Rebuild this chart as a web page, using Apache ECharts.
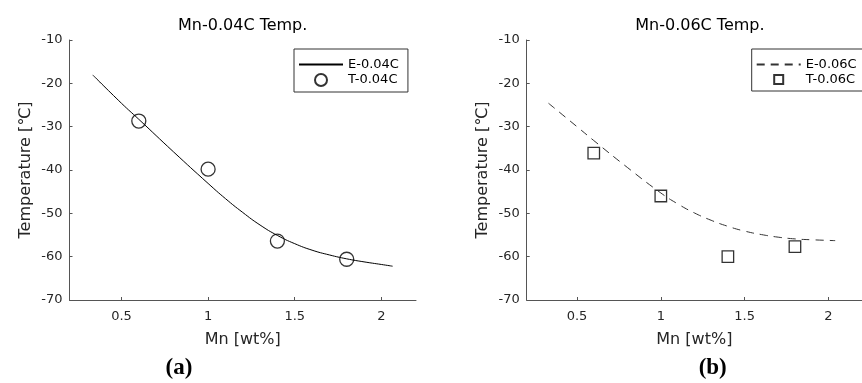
<!DOCTYPE html>
<html>
<head>
<meta charset="utf-8">
<script src="https://cdn.jsdelivr.net/npm/echarts@6/dist/echarts.min.js"></script>
<style>
  html, body { margin: 0; padding: 0; background: #fff; }
  #chart { width: 862px; height: 383px; }
</style>
</head>
<body>
<div id="chart"></div>
<script>
// tick values
const xTicks = [0.5, 1, 1.5, 2]

// (a) Mn-0.04C
const fitX004 = [0.335, 0.5, 0.6, 0.8, 1.0, 1.1, 1.2, 1.3, 1.4, 1.5, 1.6, 1.7, 1.8, 1.9, 2.0, 2.065]
const fitY004 = [-18.1, -24.6, -28.3, -35.8, -43.1, -46.6, -49.8, -52.7, -55.1, -57.0, -58.5, -59.6, -60.5, -61.2, -61.8, -62.2]
const testX004 = [0.6, 1.0, 1.4, 1.8]
const testY004 = [-28.7, -39.8, -56.4, -60.6]

// (b) Mn-0.06C
const fitX006 = [0.33, 0.5, 0.6, 0.8, 1.0, 1.1, 1.2, 1.3, 1.4, 1.5, 1.6, 1.7, 1.8, 1.9, 2.04]
const fitY006 = [-24.6, -30.0, -33.2, -39.4, -45.3, -47.8, -49.9, -51.6, -53.0, -54.1, -54.9, -55.5, -55.9, -56.1, -56.3]
const testX006 = [0.6, 1.0, 1.4, 1.8]
const testY006 = [-36.1, -46.0, -60.0, -57.7]

const pairs = (xs, ys) => xs.map((x, i) => [x, ys[i]])

const FONT = 'DejaVu Sans'
const axisColor = '#555'
const labelColor = '#262626'
const SQUARE = 'path://M0,0H10V10H0Z'

// 两个子图的位置
const grids = [
  { left: 69.5, top: 40, width: 346.5, height: 260 },
  { left: 526.7, top: 40, width: 346.5, height: 260 }
]

const makeX = (gi) => ({
  type: 'value',
  gridIndex: gi,
  min: 0.2,
  max: 2.2,
  name: 'Mn [wt%]',
  nameLocation: 'middle',
  nameGap: 32,
  nameTextStyle: { fontFamily: FONT, fontSize: 16, color: labelColor },
  axisLine: { onZero: false, lineStyle: { color: axisColor, width: 1 } },
  axisTick: { inside: true, length: 3, customValues: xTicks, lineStyle: { color: axisColor } },
  axisLabel: { customValues: xTicks, margin: 10, fontFamily: FONT, fontSize: 13, color: labelColor },
  splitLine: { show: false }
})

const makeY = (gi) => ({
  type: 'value',
  gridIndex: gi,
  min: -70,
  max: -10,
  interval: 10,
  name: 'Temperature [℃]',
  nameLocation: 'middle',
  nameGap: 36,
  nameTextStyle: { fontFamily: FONT, fontSize: 16, color: labelColor },
  axisLine: { show: true, onZero: false, lineStyle: { color: axisColor, width: 1 } },
  axisTick: { show: true, inside: true, length: 3, lineStyle: { color: axisColor } },
  axisLabel: { margin: 7, fontFamily: FONT, fontSize: 13, color: labelColor },
  splitLine: { show: false }
})

// 图例：曲线项隐藏中间的点
const makeLegend = (left, lineName, markName, markHeight, markIcon) => ({
  orient: 'vertical',
  left: left,
  top: 49,
  data: [
    { name: lineName, itemStyle: { opacity: 0 } },
    markIcon ? { name: markName, icon: markIcon } : { name: markName }
  ],
  padding: [9, 9, 5, 4],
  itemWidth: 44,
  itemHeight: markHeight,
  itemGap: 2,
  symbolKeepAspect: true,
  borderColor: '#333',
  borderWidth: 1,
  backgroundColor: '#fff',
  borderRadius: 0,
  textStyle: { fontFamily: FONT, fontSize: 13, color: '#000' }
})

const chart = echarts.init(document.getElementById('chart'), null, { renderer: 'canvas' })

const option = {
  animation: false,
  backgroundColor: '#fff',
  title: [
    { text: 'Mn-0.04C Temp.', left: 242.7, top: 18, textAlign: 'center', padding: 0,
      textStyle: { fontFamily: FONT, fontSize: 16, fontWeight: 'normal', color: '#000' } },
    { text: 'Mn-0.06C Temp.', left: 699.9, top: 18, textAlign: 'center', padding: 0,
      textStyle: { fontFamily: FONT, fontSize: 16, fontWeight: 'normal', color: '#000' } },
    { text: '(a)', left: 179, top: 357, textAlign: 'center', padding: 0,
      textStyle: { fontFamily: 'Liberation Serif', fontSize: 23, fontWeight: 'bold', color: '#000' } },
    { text: '(b)', left: 712.7, top: 357, textAlign: 'center', padding: 0,
      textStyle: { fontFamily: 'Liberation Serif', fontSize: 23, fontWeight: 'bold', color: '#000' } }
  ],
  legend: [
    makeLegend(294, 'E-0.04C', 'T-0.04C', 12),
    makeLegend(751.7, 'E-0.06C', 'T-0.06C', 9, SQUARE)
  ],
  grid: grids,
  xAxis: [makeX(0), makeX(1)],
  yAxis: [makeY(0), makeY(1)],
  series: [
    {
      name: 'E-0.04C',
      type: 'line',
      xAxisIndex: 0,
      yAxisIndex: 0,
      data: pairs(fitX004, fitY004),
      smooth: true,
      symbol: 'none',
      lineStyle: { color: '#000', width: 1 },
      itemStyle: { color: '#000' }
    },
    {
      name: 'T-0.04C',
      type: 'scatter',
      xAxisIndex: 0,
      yAxisIndex: 0,
      data: pairs(testX004, testY004),
      symbol: 'circle',
      symbolSize: 14,
      itemStyle: { color: '#fff', borderColor: '#000', borderWidth: 1.3 }
    },
    {
      name: 'E-0.06C',
      type: 'line',
      xAxisIndex: 1,
      yAxisIndex: 1,
      data: pairs(fitX006, fitY006),
      smooth: true,
      symbol: 'none',
      lineStyle: { color: '#333', width: 1, type: [8, 6] },
      itemStyle: { color: '#333' }
    },
    {
      name: 'T-0.06C',
      type: 'scatter',
      xAxisIndex: 1,
      yAxisIndex: 1,
      data: pairs(testX006, testY006),
      symbol: 'rect',
      symbolSize: 11.5,
      itemStyle: { color: '#fff', borderColor: '#000', borderWidth: 1.3 }
    }
  ]
}

chart.setOption(option)
</script>
</body>
</html>
